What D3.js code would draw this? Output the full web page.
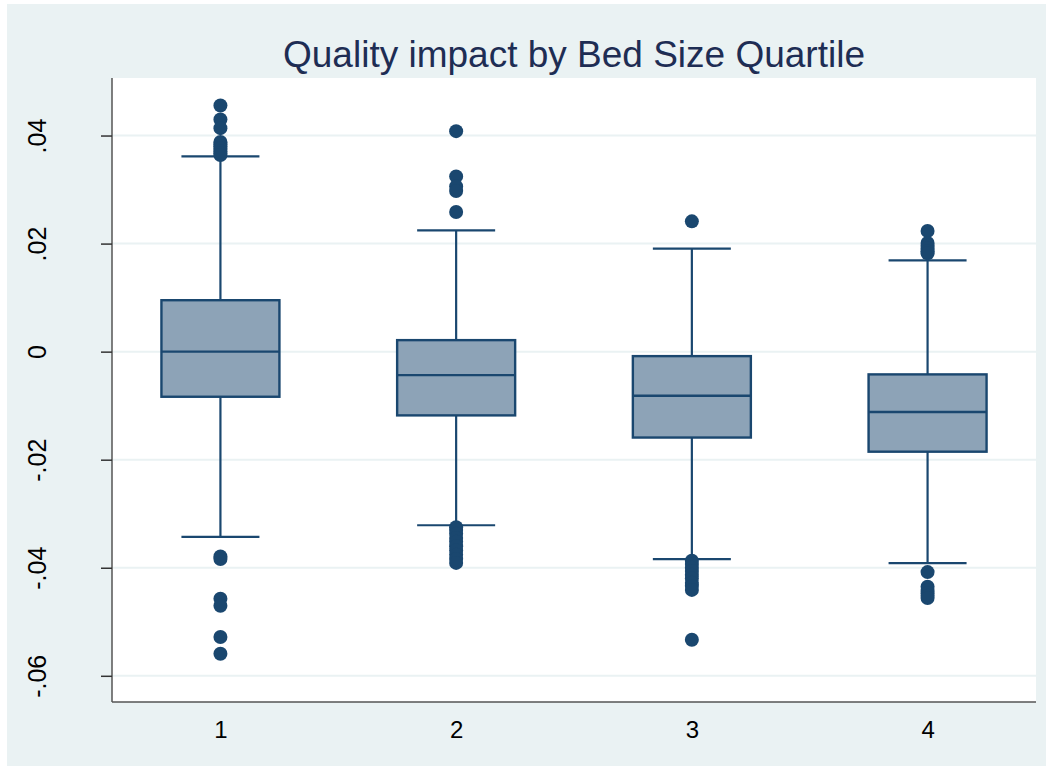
<!DOCTYPE html>
<html>
<head>
<meta charset="utf-8">
<script src="https://cdn.jsdelivr.net/npm/d3@7"></script>
<style>
  html, body { margin: 0; padding: 0; background: #ffffff; }
  svg { display: block; font-family: "Liberation Sans", Arial, sans-serif; }
</style>
</head>
<body>
<svg id="chart" width="1053" height="770"></svg>
<script>
// Bed size quartiles
const categories = ["1", "2", "3", "4"];

// Box summary per quartile
const q1Values      = [-0.00835, -0.0118, -0.0159, -0.01852];
const medianValues  = [0.0, -0.00434, -0.00817, -0.01118];
const q3Values      = [0.00952, 0.00213, -0.00083, -0.00421];
const lowerWhiskers = [-0.03429, -0.03213, -0.03841, -0.03915];
const upperWhiskers = [0.03614, 0.02246, 0.01908, 0.01691];

// Outside values per quartile
const outliers = [
  [0.04555, 0.04298, 0.04137, 0.0388, 0.0384, 0.0380, 0.0376, 0.0371, 0.0367, 0.0364,
   -0.0379, -0.0384, -0.04575, -0.04704, -0.05283, -0.05591],
  [0.04081, 0.03244, 0.03059, 0.02972, 0.02584,
   -0.0325, -0.0330, -0.0337, -0.0345, -0.0352, -0.0360, -0.0368, -0.0376, -0.0384, -0.0391],
  [0.02412,
   -0.0387, -0.0393, -0.0400, -0.0406, -0.0413, -0.0420, -0.0428, -0.0434, -0.0441, -0.05333],
  [0.02233, 0.0201, 0.0196, 0.0191, 0.0186, 0.0182,
   -0.04081, -0.0435, -0.0441, -0.0447, -0.0452, -0.0456]
];

const yTicks = [-0.06, -0.04, -0.02, 0, 0.02, 0.04];
const yTickLabels = ["-.06", "-.04", "-.02", "0", ".02", ".04"];
const title = "Quality impact by Bed Size Quartile";

const navy = "#1a476f";
const boxFill = "#8da3b7";
const gridColor = "#eaf2f3";

const svg = d3.select("#chart");

// Outer graph region
svg.append("rect")
  .attr("x", 7).attr("y", 4).attr("width", 1039).attr("height", 762)
  .attr("fill", "#eaf2f3");

const plot = { left: 112, right: 1036, top: 78, bottom: 702 };

// Plot region
svg.append("rect")
  .attr("x", plot.left).attr("y", plot.top)
  .attr("width", plot.right - plot.left).attr("height", plot.bottom - plot.top)
  .attr("fill", "#ffffff");

const y = d3.scaleLinear()
  .domain([-0.06485, 0.05065])
  .range([plot.bottom, plot.top]);

const x = d3.scalePoint()
  .domain(categories)
  .range([plot.left, plot.right])
  .padding(0.46);

// Horizontal grid lines
svg.append("g").selectAll("line")
  .data(yTicks)
  .join("line")
  .attr("x1", plot.left).attr("x2", plot.right)
  .attr("y1", d => y(d)).attr("y2", d => y(d))
  .attr("stroke", gridColor).attr("stroke-width", 2);

// Y axis
const yAxis = svg.append("g")
  .attr("transform", `translate(${plot.left},0)`)
  .call(d3.axisLeft(y)
    .tickValues(yTicks)
    .tickFormat((d, i) => yTickLabels[i])
    .tickSize(11)
    .tickSizeOuter(0)
    .tickPadding(0));
yAxis.select(".domain").attr("stroke", "#555555").attr("stroke-width", 1.5)
  .attr("d", `M0,${plot.top}V${plot.bottom}`);
yAxis.selectAll(".tick line").attr("stroke", "#333333").attr("stroke-width", 1.5);
yAxis.selectAll(".tick text")
  .attr("font-size", 25)
  .attr("fill", "#000000")
  .attr("text-anchor", "middle")
  .attr("x", null).attr("dy", null)
  .attr("transform", "translate(-66,0) rotate(-90)");

// X axis
const xAxis = svg.append("g")
  .attr("transform", `translate(0,${plot.bottom})`)
  .call(d3.axisBottom(x).tickSize(0).tickSizeOuter(0).tickPadding(0));
xAxis.select(".domain").attr("stroke", "#555555").attr("stroke-width", 1.5)
  .attr("d", `M${plot.left},0H${plot.right}`);
xAxis.selectAll(".tick text")
  .attr("font-size", 24)
  .attr("fill", "#000000")
  .attr("dy", null)
  .attr("y", 36);

// Boxes
const boxHalf = 59, capHalf = 39;
const groups = svg.append("g").selectAll("g")
  .data(categories.map((c, i) => ({
    c, q1: q1Values[i], med: medianValues[i], q3: q3Values[i],
    lo: lowerWhiskers[i], hi: upperWhiskers[i], out: outliers[i]
  })))
  .join("g")
  .attr("transform", d => `translate(${x(d.c)},0)`);

// Whisker stems
groups.append("line")
  .attr("x1", 0).attr("x2", 0)
  .attr("y1", d => y(d.q3)).attr("y2", d => y(d.hi))
  .attr("stroke", navy).attr("stroke-width", 2.2);
groups.append("line")
  .attr("x1", 0).attr("x2", 0)
  .attr("y1", d => y(d.q1)).attr("y2", d => y(d.lo))
  .attr("stroke", navy).attr("stroke-width", 2.2);

// Whisker caps
groups.append("line")
  .attr("x1", -capHalf).attr("x2", capHalf)
  .attr("y1", d => y(d.hi)).attr("y2", d => y(d.hi))
  .attr("stroke", navy).attr("stroke-width", 2.2);
groups.append("line")
  .attr("x1", -capHalf).attr("x2", capHalf)
  .attr("y1", d => y(d.lo)).attr("y2", d => y(d.lo))
  .attr("stroke", navy).attr("stroke-width", 2.2);

// Interquartile box
groups.append("rect")
  .attr("x", -boxHalf).attr("width", boxHalf * 2)
  .attr("y", d => y(d.q3)).attr("height", d => y(d.q1) - y(d.q3))
  .attr("fill", boxFill).attr("stroke", navy).attr("stroke-width", 2.4);

// Median line
groups.append("line")
  .attr("x1", -boxHalf).attr("x2", boxHalf)
  .attr("y1", d => y(d.med)).attr("y2", d => y(d.med))
  .attr("stroke", navy).attr("stroke-width", 2.4);

// Outside values
groups.selectAll("circle")
  .data(d => d.out)
  .join("circle")
  .attr("cx", 0).attr("cy", v => y(v)).attr("r", 7)
  .attr("fill", navy);

// Title
svg.append("text")
  .attr("x", 574)
  .attr("y", 67)
  .attr("text-anchor", "middle")
  .attr("font-size", 37)
  .attr("fill", "#1e2d54")
  .text(title);
</script>
</body>
</html>
